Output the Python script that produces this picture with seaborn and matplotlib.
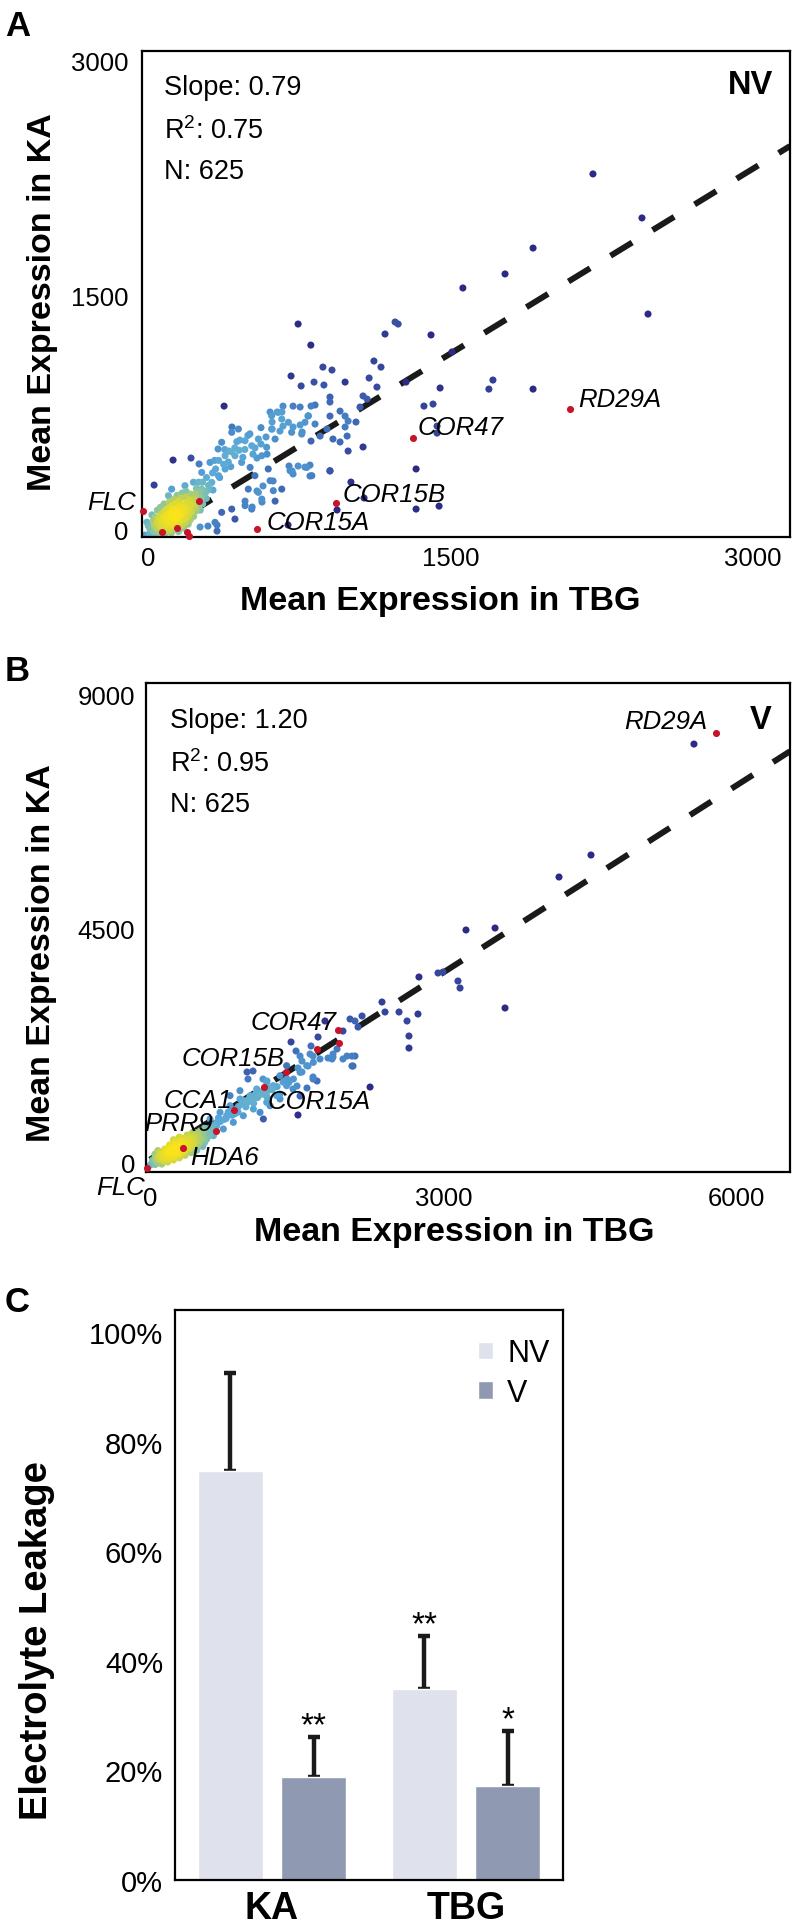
import numpy as np
import pandas as pd
import matplotlib
matplotlib.use("Agg")
import matplotlib.pyplot as plt
import seaborn as sns
from matplotlib.colors import LinearSegmentedColormap

# ---------------- DATA ----------------
# Panel A (NV): mean expression (TBG, KA) of the 625 genes
nv_sparse = [
    (2206, 2276), (2449, 1994), (1909, 1801), (1770, 1635), (1561, 1545), (2479, 1378),
    (744, 1314), (1225, 1327), (1240, 1314), (1175, 1250), (1403, 1244), (807, 1179),
    (1507, 1135), (867, 1038), (912, 1019), (1120, 1077), (1155, 1038), (709, 981),
    (759, 917), (823, 942), (872, 923), (977, 942), (1096, 968), (1135, 910), (1448, 904),
    (1710, 955), (1690, 897), (1909, 897), (1279, 942), (1066, 853), (1368, 788), (1413, 801),
    (377, 788), (416, 654), (1329, 385), (124, 442), (213, 455), (30, 282), (1443, 147),
    (1329, 128), (253, 417), (1086, 833), (1051, 782), (669, 788), (605, 750), (640, 750),
    (664, 750), (719, 788), (754, 782), (808, 788), (828, 795), (902, 846), (902, 814),
    (902, 724), (952, 756), (977, 724), (992, 692), (977, 654), (1031, 686), (793, 724),
    (754, 667), (719, 654), (669, 660), (615, 686), (615, 641), (654, 628), (764, 622),
    (808, 564), (853, 596), (887, 641), (917, 577), (952, 558), (987, 596), (992, 500),
    (1066, 526), (902, 372), (803, 340), (778, 397), (803, 410), (714, 372), (719, 353),
    (699, 404), (744, 404), (620, 308), (570, 276), (540, 244), (481, 179), (565, 173),
    (516, 141), (630, 179), (1071, 199), (937, 122), (1006, 301), (694, 26), (342, 26),
    (342, -13), (297, 19), (258, 13), (347, 513), (416, 494), (1433, 660), (1433, 615)]
nv_band = [
    (481, 566), (514, 534), (547, 577), (431, 470), (464, 427), (506, 395), (564, 470),
    (588, 524), (630, 577), (613, 641), (663, 705), (696, 684), (646, 748), (712, 620),
    (762, 609), (778, 684), (795, 726), (828, 673), (596, 385), (530, 342), (497, 256),
    (547, 235), (564, 192), (481, 150), (514, 128), (431, 64), (415, 128), (365, 107),
    (332, 43), (349, 342), (382, 385), (316, 299), (266, 256), (233, 214), (200, 171),
    (167, 128), (134, 85), (101, 214), (117, 256), (183, 278), (365, 556), (415, 620),
    (448, 641), (382, 470), (307, 427), (266, 363), (605, 310), (621, 246), (663, 256),
    (704, 374), (787, 395), (812, 342), (902, 374), (613, 726), (290, 330), (335, 385),
    (398, 430), (452, 505), (520, 480), (560, 545), (285, 235), (250, 300), (322, 250),
    (300, 280), (355, 330), (410, 400), (470, 460), (530, 520), (585, 590), (350, 440),
    (400, 500), (455, 570), (505, 610), (560, 650), (320, 360), (375, 415), (430, 520),
    (480, 510), (540, 455), (590, 480), (270, 300), (240, 260), (225, 300), (330, 440),
    (380, 510), (440, 560), (495, 600)]
nv_core = [
    (55, 20), (70, 35), (85, 50), (100, 62), (115, 75), (126, 86), (137, 94), (150, 112),
    (166, 124), (181, 141), (61, 55), (74, 71), (92, 84), (104, 101), (121, 113), (141, 131),
    (154, 146), (96, 31), (111, 44), (131, 57), (146, 69), (161, 86), (176, 99), (189, 117),
    (202, 128), (211, 151), (81, 14), (99, 9), (122, 26), (139, 36), (158, 51), (179, 66),
    (196, 79), (44, 41), (52, 69), (66, 96), (84, 116), (101, 134), (119, 151), (136, 163),
    (151, 176), (171, 159), (191, 171), (206, 186), (219, 164), (231, 139), (214, 109),
    (204, 96), (186, 44), (169, 24), (149, 14), (131, 6), (109, -6), (91, -11), (69, 1),
    (41, 6), (31, 24), (24, 51), (36, 76), (19, 91), (46, 121), (61, 139), (79, 161),
    (106, 174), (129, 191), (161, 199), (184, 206), (229, 189), (246, 171), (251, 144),
    (239, 116), (226, 81), (209, 59), (199, 31), (176, 6), (151, -16), (116, -24), (86, -31),
    (59, -24), (29, -16), (9, 1), (1, 21), (-6, 44), (6, -31), (-16, -39), (21, -44),
    (46, -39), (264, 201), (281, 229), (256, 241), (234, 226), (211, 224), (189, 241),
    (169, 231), (144, 216), (299, 251), (289, 196), (271, 161), (259, 121), (112, 96),
    (128, 72), (143, 104), (96, 66), (118, 128), (158, 96), (85, 80), (132, 118)]
nv_gene_xy = [(2092, 769), (1314, 583), (932, 167), (540, 0), (-25, 115),
              (253, 180), (69, -19), (144, 6), (193, -19), (203, -47)]
nv_gene_names = ["RD29A", "COR47", "COR15B", "COR15A", "FLC", "", "", "", "", ""]
nv_slope, nv_intercept = 0.79, -60
nv_stats = ["Slope: 0.79", "R$^{2}$: 0.75", "N: 625"]

# Panel B (V)
v_sparse = [
    (5562, 8038), (4509, 5904), (4182, 5481), (3630, 2962), (3231, 4462), (3528, 4500),
    (2750, 3558), (2945, 3635), (2996, 3654), (3149, 3481), (3170, 3346), (2372, 3077),
    (2403, 2885), (2546, 2885), (2628, 2712), (2740, 2846), (2648, 2423), (2648, 2192),
    (2045, 2750), (2096, 2712), (2168, 2808), (2127, 2596), (1789, 2712), (1973, 2519),
    (1912, 2173), (1871, 2019), (1973, 1981), (2065, 2038), (2096, 2038), (2065, 1846),
    (1718, 2404), (1646, 2231), (1442, 2308), (1493, 2135), (1554, 1942), (1616, 1846),
    (1667, 2038), (1667, 1635), (1708, 1558), (1820, 2000), (1861, 1981), (1513, 1808),
    (1503, 1462), (1554, 1731), (1605, 1423), (992, 1731), (1002, 1596), (1155, 1596),
    (1196, 1558), (1227, 1404), (1258, 1462), (2250, 1442), (1513, 904), (1397, 1853)]
v_band = [
    (1534, 2038), (1636, 2077), (1738, 1981), (1871, 2077), (2014, 2038), (2076, 1846),
    (1667, 1596), (1053, 1750), (1360, 1538), (1462, 1404), (1534, 1269), (1329, 1308),
    (1196, 1250), (682, 698), (784, 890), (886, 1019), (988, 1148), (1091, 1244),
    (1193, 1340), (920, 1212), (1023, 1276), (818, 1083), (716, 955), (614, 827),
    (1193, 1148), (1295, 1276), (1397, 1468), (1466, 1596), (1534, 1724), (1602, 1853),
    (1670, 1917), (1125, 955), (1057, 1019), (750, 635), (648, 506), (580, 442),
    (1193, 1532), (1329, 1660), (1261, 1468), (1091, 1404), (920, 1372), (818, 1276),
    (954, 890), (852, 763), (1227, 1083), (1329, 1212), (1159, 827), (760, 820),
    (905, 1070), (1010, 1210), (1120, 1290), (700, 850), (1060, 1130), (980, 1060),
    (870, 930), (1250, 1390), (1400, 1600), (1420, 1530), (1300, 1450), (640, 700),
    (720, 780), (800, 960), (860, 1000), (940, 1120), (1000, 1150), (1080, 1310),
    (1150, 1360), (1210, 1420), (680, 760), (780, 840), (840, 900), (900, 960),
    (960, 1180), (1040, 1200), (1100, 1240), (1170, 1300), (600, 640), (560, 600)]
v_core = [
    (62, 32), (81, 58), (99, 92), (118, 101), (141, 128), (162, 152), (178, 171), (203, 188),
    (221, 214), (238, 232), (262, 258), (279, 283), (302, 309), (318, 336), (341, 351),
    (362, 378), (379, 402), (401, 428), (419, 457), (442, 468), (111, 58), (129, 91),
    (152, 108), (169, 142), (191, 149), (208, 177), (232, 194), (249, 222), (271, 238),
    (288, 262), (312, 288), (329, 312), (352, 328), (368, 352), (392, 378), (408, 402),
    (88, 112), (112, 128), (128, 162), (152, 178), (168, 202), (192, 223), (208, 252),
    (232, 268), (248, 297), (272, 313), (288, 342), (312, 363), (328, 392), (352, 413),
    (372, 438), (388, 462), (458, 522), (482, 543), (498, 562), (522, 588), (538, 612),
    (452, 488), (468, 562), (492, 518), (512, 598), (42, 2), (18, -28), (52, -48), (72, 12),
    (2, -58), (28, 42), (58, 82), (198, 132), (242, 178), (278, 222), (322, 268), (358, 312),
    (402, 348), (438, 402), (158, 232), (202, 278), (252, 342), (298, 402), (348, 458),
    (402, 512), (432, 558), (558, 652), (542, 578), (578, 622), (215, 205), (245, 245),
    (265, 275), (190, 195), (230, 220), (285, 300), (175, 185), (255, 262), (235, 255),
    (150, 20), (200, 60), (250, 100), (300, 150), (350, 200), (400, 250), (450, 300),
    (500, 350), (120, -40), (180, 0), (240, 40), (300, 80), (360, 130), (420, 180),
    (480, 230), (540, 300), (100, 180), (150, 250), (200, 330), (260, 400), (320, 460),
    (380, 520), (80, -20), (220, 120), (280, 180), (340, 240), (400, 300), (460, 380),
    (520, 440), (160, 70), (210, 140), (260, 180), (310, 220), (370, 280), (430, 330),
    (490, 400), (550, 480), (130, 40), (190, 100), (250, 160), (600, 500), (620, 560),
    (560, 420), (80, 220), (50, 150), (640, 620), (560, 380), (300, 480), (240, 430)]
v_gene_xy = [(5787, 8250), (1922, 2538), (1933, 2288), (1708, 2173), (1391, 1731),
             (1166, 1442), (859, 1000), (675, 596), (337, 269), (-30, -110)]
v_gene_names = ["RD29A", "COR47", "", "", "COR15B", "COR15A", "CCA1", "PRR9", "HDA6", "FLC"]
v_slope, v_intercept = 1.20, 46
v_stats = ["Slope: 1.20", "R$^{2}$: 0.95", "N: 625"]

# Panel C: electrolyte leakage
leak_condition = ["KA", "KA", "TBG", "TBG"]
leak_treatment = ["NV", "V", "NV", "V"]
leak_mean = [74.6, 18.8, 34.9, 17.2]
leak_err = [17.9, 7.3, 9.6, 10.0]
leak_stars = ["", "**", "**", "*"]

# ---------------- STYLE ----------------
sns.set_theme(style="white")
plt.rcParams['font.family'] = ['Liberation Sans', 'DejaVu Sans']
plt.rcParams['mathtext.fontset'] = 'custom'
plt.rcParams['mathtext.rm'] = 'Liberation Sans'
plt.rcParams['mathtext.it'] = 'Liberation Sans:italic'
plt.rcParams['mathtext.bf'] = 'Liberation Sans:bold'
for k in ['text.color', 'axes.labelcolor', 'xtick.color', 'ytick.color', 'axes.edgecolor']:
    plt.rcParams[k] = 'black'

W, H = 793, 1931
fig = plt.figure(figsize=(W / 100, H / 100), dpi=100)


def axes_px(l, t, r, b):
    return fig.add_axes([l / W, 1 - b / H, (r - l) / W, (b - t) / H])


dens_cmap = LinearSegmentedColormap.from_list(
    "dens", [(0.0, '#2c2a84'), (0.25, '#3b56a9'), (0.45, '#4a8bcb'), (0.62, '#5aaad8'),
             (0.76, '#7fc1b2'), (0.88, '#cdd644'), (1.0, '#f9e31b')])
RED = '#c8142a'


def scatter_panel(ax, pts, gene_xy, gene_names, xlim, ylim, xt, yt, slope, intercept,
                  offsets, xpad, ypad):
    ax.set_xlim(*xlim)
    ax.set_ylim(*ylim)
    arr = np.array(pts, dtype=float)
    P = ax.transData.transform(arr)
    d2 = ((P[:, None, :] - P[None, :, :]) ** 2).sum(-1)
    dens = np.exp(-d2 / (2 * 9.0 ** 2)).sum(1)
    t = np.log(dens) / np.log(dens.max())
    df = pd.DataFrame({"tbg": arr[:, 0], "ka": arr[:, 1], "dens": t}).sort_values("dens")
    lx = np.array([0, xlim[1]])
    ax.plot(lx, slope * lx + intercept, color='#1a1a1a', linewidth=4.3,
            dashes=(4.25, 4.0), zorder=1)
    sns.scatterplot(data=df, x="tbg", y="ka", hue="dens", palette=dens_cmap, hue_norm=(0, 1),
                    s=26, linewidth=0, legend=False, ax=ax, zorder=2)
    g = np.array(gene_xy, dtype=float)
    sns.scatterplot(x=g[:, 0], y=g[:, 1], color=RED, s=26, linewidth=0, ax=ax, zorder=3,
                    clip_on=False)
    for (gx, gy), name in zip(gene_xy, gene_names):
        if name:
            dx, dy, ha = offsets[name]
            ax.annotate(name, (gx, gy), xytext=(dx, dy), textcoords='offset points',
                        ha=ha, va='center', fontsize=18.5, style='italic', zorder=4,
                        annotation_clip=False)
    ax.set_xticks(xt)
    ax.set_xticklabels([str(v) for v in xt])
    ax.set_yticks(yt)
    ax.set_yticklabels([str(v) for v in yt])
    ax.tick_params(axis='x', length=0, labelsize=18.5, pad=xpad)
    ax.tick_params(axis='y', length=0, labelsize=18.5, pad=ypad)
    for s in ax.spines.values():
        s.set_visible(True)
        s.set_color('black')
        s.set_linewidth(1.6)
    ax.set_xlabel("")
    ax.set_ylabel("")
    return ax


# ---------------- PANEL A ----------------
axA = axes_px(142, 52, 790, 538)
offA = {"RD29A": (5.8, 7.2, 'left'), "COR47": (3.6, 7.9, 'left'), "COR15B": (5, 6.5, 'left'),
        "COR15A": (7.2, 5, 'left'), "FLC": (-5, 6.5, 'right')}
scatter_panel(axA, nv_sparse + nv_band + nv_core, nv_gene_xy, nv_gene_names,
              (-30, 3183), (-51, 3064), [0, 1500, 3000], [0, 1500, 3000],
              nv_slope, nv_intercept, offA, 6.5, 10)
axA.set_xlabel("Mean Expression in TBG", fontsize=24.5, fontweight='bold')
axA.xaxis.set_label_coords(0.46, -0.130)
axA.xaxis.label.set_va('center')
axA.set_ylabel("Mean Expression in KA", fontsize=24.5, fontweight='bold')
axA.yaxis.set_label_coords(-0.154, 0.486)
axA.yaxis.label.set_va('center')
for i, s in enumerate(nv_stats):
    axA.text((164 - 142) / 648, (538 - (75 + 42 * i)) / 486, s, transform=axA.transAxes,
             fontsize=19.5, ha='left', va='top')
axA.text((773 - 142) / 648, (538 - 70) / 486, "NV", transform=axA.transAxes,
         fontsize=23.5, fontweight='bold', ha='right', va='top')

# ---------------- PANEL B ----------------
axB = axes_px(146, 684, 790, 1173)
offB = {"RD29A": (-6.5, 8.6, 'right'), "COR47": (-0.7, 5.8, 'right'),
        "COR15B": (-0.7, 10, 'right'), "COR15A": (2.9, -10, 'left'),
        "CCA1": (-1.4, 7.5, 'right'), "PRR9": (-2.2, 5.8, 'right'),
        "HDA6": (5, -6.5, 'left'), "FLC": (-1.4, -13.7, 'right')}
scatter_panel(axB, v_sparse + v_band + v_core, v_gene_xy, v_gene_names,
              (-41, 6544), (-192, 9212), [0, 3000, 6000], [0, 4500, 9000],
              v_slope, v_intercept, offB, 10, 8)
axB.set_xlabel("Mean Expression in TBG", fontsize=24.5, fontweight='bold')
axB.xaxis.set_label_coords(0.478, -0.121)
axB.xaxis.label.set_va('center')
axB.set_ylabel("Mean Expression in KA", fontsize=24.5, fontweight='bold')
axB.yaxis.set_label_coords(-0.163, 0.45)
axB.yaxis.label.set_va('center')
for i, s in enumerate(v_stats):
    axB.text((170 - 146) / 644, (1173 - (708 + 42 * i)) / 489, s, transform=axB.transAxes,
             fontsize=19.5, ha='left', va='top')
axB.text((772 - 146) / 644, (1173 - 705) / 489, "V", transform=axB.transAxes,
         fontsize=23.5, fontweight='bold', ha='right', va='top')

# ---------------- PANEL C ----------------
axC = axes_px(175, 1311, 563, 1881)
dfC = pd.DataFrame({"condition": leak_condition, "treatment": leak_treatment,
                    "leak": leak_mean, "err": leak_err, "star": leak_stars})
sns.barplot(data=dfC, x="condition", y="leak", hue="treatment",
            palette={"NV": "#dfe2ec", "V": "#8f9ab2"}, width=0.856, gap=0.22,
            errorbar=None, saturation=1, ax=axC, zorder=2)
axC.set_ylim(0, 104)
axC.set_xlim(-0.5, 1.5)
for container, trt in zip(axC.containers, ["NV", "V"]):
    for bar, cond in zip(container, ["KA", "TBG"]):
        row = dfC[(dfC.condition == cond) & (dfC.treatment == trt)].iloc[0]
        xc = bar.get_x() + bar.get_width() / 2
        top = bar.get_height()
        axC.errorbar([xc], [top], yerr=[[0], [row.err]], fmt='none', ecolor='#1a1a1a',
                     elinewidth=3.2, capsize=4.3, capthick=3.2, zorder=1)
        if row.star:
            axC.text(xc, top + row.err + 2.0, row.star, ha='center', va='center',
                     fontsize=24)
axC.set_yticks([0, 20, 40, 60, 80, 100])
axC.set_yticklabels([f"{v}%" for v in [0, 20, 40, 60, 80, 100]])
axC.tick_params(axis='y', length=0, labelsize=21, pad=8.5)
axC.tick_params(axis='x', length=0, labelsize=27, pad=7)
for lab in axC.get_xticklabels():
    lab.set_fontweight('bold')
for s in axC.spines.values():
    s.set_visible(True)
    s.set_color('black')
    s.set_linewidth(1.6)
axC.set_xlabel("")
axC.set_ylabel("Electrolyte Leakage", fontsize=27.5, fontweight='bold')
axC.yaxis.set_label_coords(-0.356, 0.421)
axC.yaxis.label.set_va('center')
handles, labels = axC.get_legend_handles_labels()
axC.legend(handles, labels, loc='upper left', bbox_to_anchor=(0.781, 0.95),
           frameon=False, fontsize=22, handlelength=0.5, handleheight=0.5,
           handletextpad=0.45, labelspacing=0.3, borderpad=0, borderaxespad=0)

# ---------------- PANEL LETTERS ----------------
for letter, ytop in [("A", 10), ("B", 655), ("C", 1286)]:
    fig.text(5 / W, 1 - ytop / H, letter, fontsize=25, fontweight='bold', ha='left', va='top')

fig.savefig("out.png", dpi=100)
